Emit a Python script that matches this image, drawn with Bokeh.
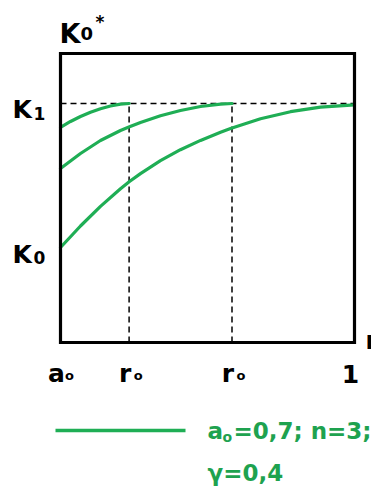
from bokeh.plotting import figure
from bokeh.models import Range1d
from bokeh.core.properties import value
from bokeh.embed import file_html
from bokeh.resources import INLINE

# ---------------- data ----------------
x_start, x_end = 0.7, 1.0          # a0 ... 1
K1 = 1.0
K0 = 0.3975
r0_values = [0.77, 0.875]

tick_values = [0.7, 0.77, 0.875, 1.0]
tick_main = ["a", "r", "r", "1"]
tick_sub = ["o", "o", "o", ""]

curve1_x = [0.700, 0.7102, 0.7204, 0.7306, 0.7408, 0.7510, 0.7612, 0.770]
curve1_y = [0.8996, 0.9247, 0.9456, 0.9636, 0.9782, 0.9895, 0.9971, 1.000]

curve2_x = [0.700, 0.7204, 0.7408, 0.7612, 0.7704, 0.7816, 0.8020, 0.8224,
            0.8429, 0.8633, 0.875]
curve2_y = [0.7280, 0.7908, 0.8452, 0.8870, 0.9025, 0.9205, 0.9485, 0.9707,
            0.9874, 0.9971, 1.000]

curve3_x = [0.700, 0.7204, 0.7408, 0.7612, 0.7704, 0.7816, 0.8020, 0.8224,
            0.8429, 0.8633, 0.8735, 0.9041, 0.9347, 0.9653, 1.000]
curve3_y = [0.3975, 0.4874, 0.5695, 0.6435, 0.6736, 0.7067, 0.7607, 0.8067,
            0.8456, 0.8799, 0.8954, 0.9360, 0.9657, 0.9845, 0.9946]

legend_a0 = "0,7"
legend_n = "3"
legend_gamma = "0,4"

# ---------------- layout helpers ----------------
W, H = 371, 486
PX_X = 980.0   # pixels per x unit
PX_Y = 239.0   # pixels per y unit
FL, FB = 60, 342  # frame left / bottom pixel


def X(px):
    return x_start + (px - FL) / PX_X


def Y(py):
    return (FB - py) / PX_Y


GREEN = "#1fae55"
TGREEN = "#1ea24f"
FONT = value("DejaVu Sans")

p = figure(width=W, height=H, output_backend="svg", toolbar_location=None,
           x_range=Range1d(X(0), X(W)), y_range=Range1d(Y(H), Y(0)),
           x_axis_type=None, y_axis_type=None, min_border=0)
p.outline_line_color = None
p.grid.visible = False
p.background_fill_color = "white"

# dashed guide lines
p.segment(x0=[x_start], y0=[K1], x1=[x_end], y1=[K1], line_color="black",
          line_width=1.5, line_dash="6 4")
p.segment(x0=r0_values, y0=[0] * len(r0_values), x1=r0_values, y1=[K1] * len(r0_values),
          line_color="black", line_width=1.5, line_dash="6 4")

# curves
for cx, cy in [(curve1_x, curve1_y), (curve2_x, curve2_y), (curve3_x, curve3_y)]:
    p.line(cx, cy, line_color=GREEN, line_width=3.2, line_cap="round", line_join="round")

# frame box
p.quad(left=[x_start], right=[x_end], bottom=[0], top=[Y(53)], fill_color=None,
       line_color="black", line_width=3.2, line_join="miter")

# tick labels
p.text(x=[t - 4 / PX_X for t in tick_values], y=[Y(373)] * 4, text=tick_main,
       text_font=FONT, text_font_style="bold", text_font_size="25px",
       text_align="center", text_baseline="alphabetic", text_color="black")
p.text(x=[t + 9 / PX_X for t in tick_values], y=[Y(375)] * 4, text=tick_sub,
       text_font=FONT, text_font_style="bold", text_font_size="13px",
       text_align="center", text_baseline="alphabetic", text_color="black")

# axis label "r" (cut at the right edge, as in the original)
p.text(x=[X(365)], y=[Y(340)], text=["r"], text_font=FONT, text_font_style="bold",
       text_font_size="24px", text_align="left", text_baseline="alphabetic")

# K1 / K0 labels
p.text(x=[X(12), X(12)], y=[K1 - 6 / PX_Y, K0 - 7 / PX_Y], text=["K", "K"],
       text_font=FONT, text_font_style="bold", text_font_size="25px",
       text_align="left", text_baseline="alphabetic")
p.text(x=[X(33), X(33)], y=[K1 - 10 / PX_Y, K0 - 10 / PX_Y], text=["1", "0"],
       text_font=FONT, text_font_style="bold", text_font_size="17px",
       text_align="left", text_baseline="alphabetic")

# title K0*
p.text(x=[X(59)], y=[Y(33)], text=["K"], text_font=FONT, text_font_style="bold",
       text_font_size="27px", text_align="left", text_baseline="alphabetic")
p.text(x=[X(80)], y=[Y(33)], text=["0"], text_font=FONT, text_font_style="bold",
       text_font_size="18px", text_align="left", text_baseline="alphabetic")
p.text(x=[X(95)], y=[Y(21)], text=["*"], text_font=FONT, text_font_style="bold",
       text_font_size="17px", text_align="left", text_baseline="alphabetic")

# legend
p.segment(x0=[X(55)], y0=[Y(430)], x1=[X(185)], y1=[Y(430)], line_color=GREEN,
          line_width=3.5)
p.text(x=[X(207)], y=[Y(430)], text=["a"], text_font=FONT, text_font_style="bold",
       text_font_size="23px", text_align="left", text_baseline="alphabetic",
       text_color=TGREEN)
p.text(x=[X(222)], y=[Y(436)], text=["o"], text_font=FONT, text_font_style="bold",
       text_font_size="14px", text_align="left", text_baseline="alphabetic",
       text_color=TGREEN)
p.text(x=[X(233)], y=[Y(430)], text=["=" + legend_a0 + "; n=" + legend_n + ";"],
       text_font=FONT, text_font_style="bold", text_font_size="23px",
       text_align="left", text_baseline="alphabetic", text_color=TGREEN)
p.text(x=[X(207)], y=[Y(472)], text=["\u03b3=" + legend_gamma],
       text_font=FONT, text_font_style="bold", text_font_size="23px",
       text_align="left", text_baseline="alphabetic", text_color=TGREEN)

open("out.html", "w").write(file_html(p, INLINE))
